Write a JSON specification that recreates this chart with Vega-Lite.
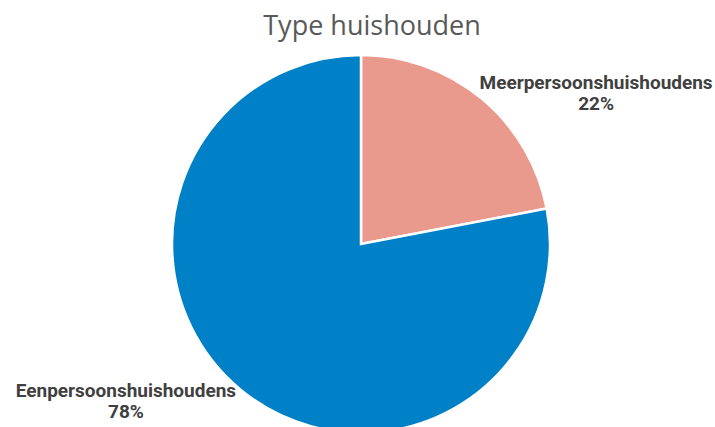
{
  "$schema": "https://vega.github.io/schema/vega-lite/v6.json",
  "width": 722,
  "height": 388,
  "autosize": "none",
  "padding": {"top": 50, "left": 0, "right": 0, "bottom": 0},
  "background": "white",
  "title": {"text": "Type huishouden", "font": "Open Sans", "fontSize": 27, "fontWeight": "normal", "color": "#595959", "anchor": "middle", "dx": 11, "dy": 27, "baseline": "alphabetic", "offset": 15},
  "data": {"values": [
    {"cat": "Meerpersoonshuishoudens", "pct": 22, "order": 1},
    {"cat": "Eenpersoonshuishoudens", "pct": 78, "order": 2}
  ]},
  "layer": [
    {
      "mark": {"type": "arc", "radius": 189, "stroke": "white", "strokeWidth": 2.5},
      "encoding": {
        "theta": {"field": "pct", "type": "quantitative", "stack": true},
        "color": {"field": "cat", "type": "nominal", "scale": {"domain": ["Meerpersoonshuishoudens", "Eenpersoonshuishoudens"], "range": ["#EA9A8C", "#0080C6"]}, "legend": null},
        "order": {"field": "order", "type": "quantitative"}
      }
    },
    {
      "transform": [{"calculate": "datum.cat + '\\n' + datum.pct + '%'", "as": "lbl"}],
      "mark": {"type": "text", "radius": 281, "dy": -7, "lineBreak": "\n", "lineHeight": 21, "font": "Roboto", "fontWeight": "bold", "fontSize": 19, "fill": "#404040", "align": "center", "baseline": "middle"},
      "encoding": {
        "theta": {"field": "pct", "type": "quantitative", "stack": true, "scale": {"range": [0.3, 6.583]}},
        "text": {"field": "lbl", "type": "nominal"},
        "order": {"field": "order", "type": "quantitative"}
      }
    }
  ],
  "resolve": {"scale": {"theta": "independent"}},
  "view": {"stroke": null}
}
